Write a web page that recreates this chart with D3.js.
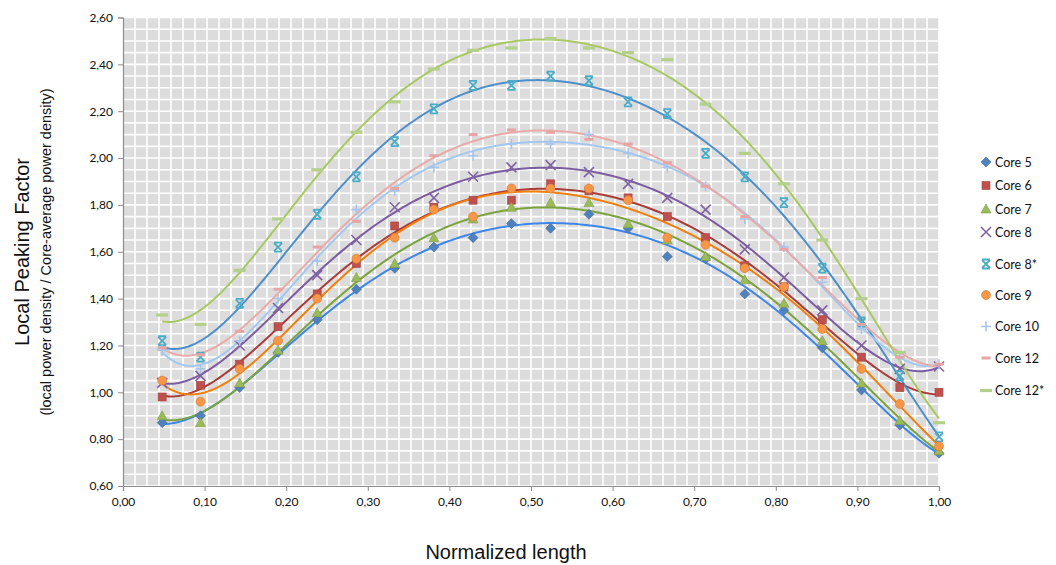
<!DOCTYPE html>
<html>
<head>
<meta charset="utf-8">
<script src="https://cdn.jsdelivr.net/npm/d3@7"></script>
<style>
  body { margin: 0; background: #fff; }
  svg { display: block; }
</style>
</head>
<body>
<div id="chart"></div>
<script>
// normalized positions along the core
const positions = [0.048, 0.095, 0.143, 0.190, 0.238, 0.286, 0.333, 0.381, 0.429, 0.476, 0.524,
                   0.571, 0.619, 0.667, 0.714, 0.762, 0.810, 0.857, 0.905, 0.952, 1.000];

const core5   = [0.87, 0.90, 1.02, 1.17, 1.31, 1.44, 1.53, 1.62, 1.66, 1.72, 1.70, 1.76, 1.70, 1.58, 1.57, 1.42, 1.35, 1.19, 1.01, 0.86, 0.74];
const core6   = [0.98, 1.03, 1.12, 1.28, 1.42, 1.55, 1.71, 1.79, 1.82, 1.82, 1.89, 1.86, 1.83, 1.75, 1.66, 1.54, 1.45, 1.31, 1.15, 1.02, 1.00];
const core7   = [0.90, 0.87, 1.04, 1.18, 1.34, 1.49, 1.55, 1.66, 1.74, 1.79, 1.81, 1.81, 1.72, 1.65, 1.58, 1.48, 1.38, 1.22, 1.04, 0.88, 0.75];
const core8   = [1.04, 1.07, 1.20, 1.36, 1.50, 1.65, 1.79, 1.83, 1.92, 1.96, 1.97, 1.94, 1.89, 1.83, 1.78, 1.61, 1.49, 1.35, 1.20, 1.10, 1.11];
const core8s  = [1.22, 1.15, 1.38, 1.62, 1.76, 1.92, 2.07, 2.21, 2.31, 2.31, 2.35, 2.33, 2.24, 2.19, 2.02, 1.92, 1.81, 1.53, 1.30, 1.07, 0.81];
const core9   = [1.05, 0.96, 1.10, 1.22, 1.40, 1.57, 1.66, 1.78, 1.75, 1.87, 1.87, 1.87, 1.82, 1.66, 1.63, 1.53, 1.45, 1.27, 1.10, 0.95, 0.77];
const core10  = [1.18, 1.10, 1.22, 1.40, 1.56, 1.78, 1.86, 1.96, 2.01, 2.06, 2.06, 2.10, 2.02, 1.96, 1.88, 1.74, 1.62, 1.47, 1.27, 1.15, 1.12];
const core12  = [1.19, 1.16, 1.26, 1.44, 1.62, 1.73, 1.87, 2.01, 2.10, 2.12, 2.11, 2.08, 2.06, 1.98, 1.88, 1.75, 1.61, 1.49, 1.29, 1.15, 1.12];
const core12s = [1.33, 1.29, 1.52, 1.74, 1.95, 2.11, 2.24, 2.38, 2.46, 2.47, 2.51, 2.47, 2.45, 2.42, 2.23, 2.02, 1.89, 1.65, 1.40, 1.17, 0.87];

const seriesNames = ['Core 5', 'Core 6', 'Core 7', 'Core 8', 'Core 8*', 'Core 9', 'Core 10', 'Core 12', 'Core 12*'];
const seriesValues = [core5, core6, core7, core8, core8s, core9, core10, core12, core12s];
const markerTypes = ['diamond', 'square', 'triangle', 'cross', 'star', 'circle', 'plus', 'dash', 'longdash'];
const markerColors = ['#4f81bd', '#c0504d', '#9bbb59', '#8064a2', '#4bacc6', '#f79646', '#a9c4eb', '#e6a5a4', '#b5d08a'];
const lineColors   = ['#3f86ea', '#a83c3a', '#7aa33e', '#7c5ca0', '#4d8fcc', '#f27f0c', '#a3c8f0', '#e9aaa9', '#a9c862'];

const xTicks = [0, 0.1, 0.2, 0.3, 0.4, 0.5, 0.6, 0.7, 0.8, 0.9, 1.0];
const yTicks = [0.6, 0.8, 1.0, 1.2, 1.4, 1.6, 1.8, 2.0, 2.2, 2.4, 2.6];

const W = 1056, H = 565;
const plot = {left: 123, right: 939, top: 17.5, bottom: 486};

const x = d3.scaleLinear().domain([0, 1]).range([plot.left, plot.right]);
const y = d3.scaleLinear().domain([0.6, 2.6]).range([plot.bottom, plot.top]);
const fmt = v => d3.format('.2f')(v).replace('.', ',');

const svg = d3.select('#chart').append('svg').attr('width', W).attr('height', H);

// background + grid
svg.append('rect').attr('x', plot.left).attr('y', plot.top)
  .attr('width', plot.right - plot.left).attr('height', plot.bottom - plot.top)
  .attr('fill', '#dcdcdc');

const grid = svg.append('g');
grid.selectAll('line.v').data(d3.range(0, 1.0001, 1 / 68)).join('line')
  .attr('x1', d => x(d)).attr('x2', d => x(d))
  .attr('y1', plot.top).attr('y2', plot.bottom)
  .attr('stroke', '#fff').attr('stroke-width', 1.6);
grid.selectAll('line.h').data(d3.range(0.6, 2.6001, 0.05)).join('line')
  .attr('y1', d => y(d)).attr('y2', d => y(d))
  .attr('x1', plot.left).attr('x2', plot.right)
  .attr('stroke', '#fff').attr('stroke-width', 1.6);

// axes
const xAxis = svg.append('g').attr('transform', `translate(0,${plot.bottom})`)
  .call(d3.axisBottom(x).tickValues(xTicks).tickFormat(fmt).tickSize(5).tickPadding(6));
const yAxis = svg.append('g').attr('transform', `translate(${plot.left},0)`)
  .call(d3.axisLeft(y).tickValues(yTicks).tickFormat(fmt).tickSize(5).tickPadding(5));
[xAxis, yAxis].forEach(a => {
  a.select('.domain').attr('stroke', '#8c8c8c').attr('stroke-width', 1.2);
  a.selectAll('.tick line').attr('stroke', '#8c8c8c');
  a.selectAll('.tick text').attr('font-family', 'Lato, "Open Sans", sans-serif')
    .attr('font-size', 12).attr('fill', '#111');
});

// polynomial trendline (least squares, order 6)
function polyfit(xs, ys, deg) {
  const n = deg + 1;
  const A = Array.from({length: n}, () => new Array(n + 1).fill(0));
  xs.forEach((xv, i) => {
    for (let r = 0; r < n; r++) {
      for (let c = 0; c < n; c++) A[r][c] += Math.pow(xv, r + c);
      A[r][n] += ys[i] * Math.pow(xv, r);
    }
  });
  for (let c = 0; c < n; c++) {
    let p = c;
    for (let r = c + 1; r < n; r++) if (Math.abs(A[r][c]) > Math.abs(A[p][c])) p = r;
    [A[c], A[p]] = [A[p], A[c]];
    for (let r = 0; r < n; r++) {
      if (r === c) continue;
      const f = A[r][c] / A[c][c];
      for (let k = c; k <= n; k++) A[r][k] -= f * A[c][k];
    }
  }
  return A.map((row, i) => row[n] / row[i]);
}
const evalPoly = (co, xv) => co.reduce((s, c, i) => s + c * Math.pow(xv, i), 0);

const sampleX = d3.range(positions[0], 1.0001, 0.004);
const line = d3.line().x(d => x(d[0])).y(d => y(d[1])).curve(d3.curveLinear);

const lines = svg.append('g');
seriesValues.forEach((vals, i) => {
  const co = polyfit(positions, vals, 6);
  lines.append('path')
    .datum(sampleX.map(xv => [xv, evalPoly(co, xv)]))
    .attr('d', line).attr('fill', 'none')
    .attr('stroke', lineColors[i]).attr('stroke-width', 2);
});

// markers
function drawMarker(g, type, color) {
  const dark = d3.color(color).darker(0.5);
  switch (type) {
    case 'diamond':
      g.append('path').attr('d', 'M0,-5L5,0L0,5L-5,0Z').attr('fill', color).attr('stroke', dark).attr('stroke-width', 0.6); break;
    case 'square':
      g.append('rect').attr('x', -4).attr('y', -4).attr('width', 8).attr('height', 8).attr('fill', color).attr('stroke', dark).attr('stroke-width', 0.6); break;
    case 'triangle':
      g.append('path').attr('d', 'M0,-5L5,4L-5,4Z').attr('fill', color).attr('stroke', dark).attr('stroke-width', 0.6); break;
    case 'circle':
      g.append('circle').attr('r', 4.5).attr('fill', color).attr('stroke', dark).attr('stroke-width', 0.6); break;
    case 'cross':
      g.append('path').attr('d', 'M-5,-5L5,5M5,-5L-5,5').attr('stroke', color).attr('stroke-width', 1.6); break;
    case 'star':
      g.append('path').attr('d', 'M-4,-4L4,4M4,-4L-4,4M-4,-4.5L4,-4.5M-4,4.5L4,4.5').attr('stroke', color).attr('stroke-width', 1.8); break;
    case 'plus':
      g.append('path').attr('d', 'M-5,0L5,0M0,-5L0,5').attr('stroke', color).attr('stroke-width', 1.6); break;
    case 'dash':
      g.append('rect').attr('x', -4.5).attr('y', -1.5).attr('width', 9).attr('height', 3).attr('fill', color); break;
    case 'longdash':
      g.append('rect').attr('x', -6).attr('y', -1.6).attr('width', 12).attr('height', 3.2).attr('fill', color); break;
  }
}

const marks = svg.append('g');
seriesValues.forEach((vals, i) => {
  const g = marks.append('g');
  vals.forEach((v, j) => {
    const m = g.append('g').attr('transform', `translate(${x(positions[j])},${y(v)})`);
    drawMarker(m, markerTypes[i], markerColors[i]);
  });
});

// legend
const legendY = [162, 185.5, 209, 232, 264, 295, 326.5, 358, 390.5];
const legend = svg.append('g').attr('transform', 'translate(986,0)');
seriesNames.forEach((name, i) => {
  const item = legend.append('g').attr('transform', `translate(0,${legendY[i]})`);
  drawMarker(item.append('g'), markerTypes[i], markerColors[i]);
  item.append('text').attr('x', 9).attr('y', 4.5).text(name)
    .attr('font-family', 'Lato, "Open Sans", sans-serif').attr('font-size', 12.5).attr('fill', '#111');
});

// axis titles
svg.append('text').attr('transform', 'translate(29,252) rotate(-90)')
  .attr('text-anchor', 'middle').attr('font-family', '"Liberation Sans", Arial, sans-serif')
  .attr('font-size', 20).attr('fill', '#111').text('Local Peaking Factor');
svg.append('text').attr('transform', 'translate(51,252) rotate(-90)')
  .attr('text-anchor', 'middle').attr('font-family', '"Liberation Sans", Arial, sans-serif')
  .attr('font-size', 14.5).attr('fill', '#111').text('(local power density / Core-average power density)');
svg.append('text').attr('x', 506).attr('y', 559)
  .attr('text-anchor', 'middle').attr('font-family', '"Liberation Sans", Arial, sans-serif')
  .attr('font-size', 20).attr('fill', '#111').text('Normalized length');
</script>
</body>
</html>
